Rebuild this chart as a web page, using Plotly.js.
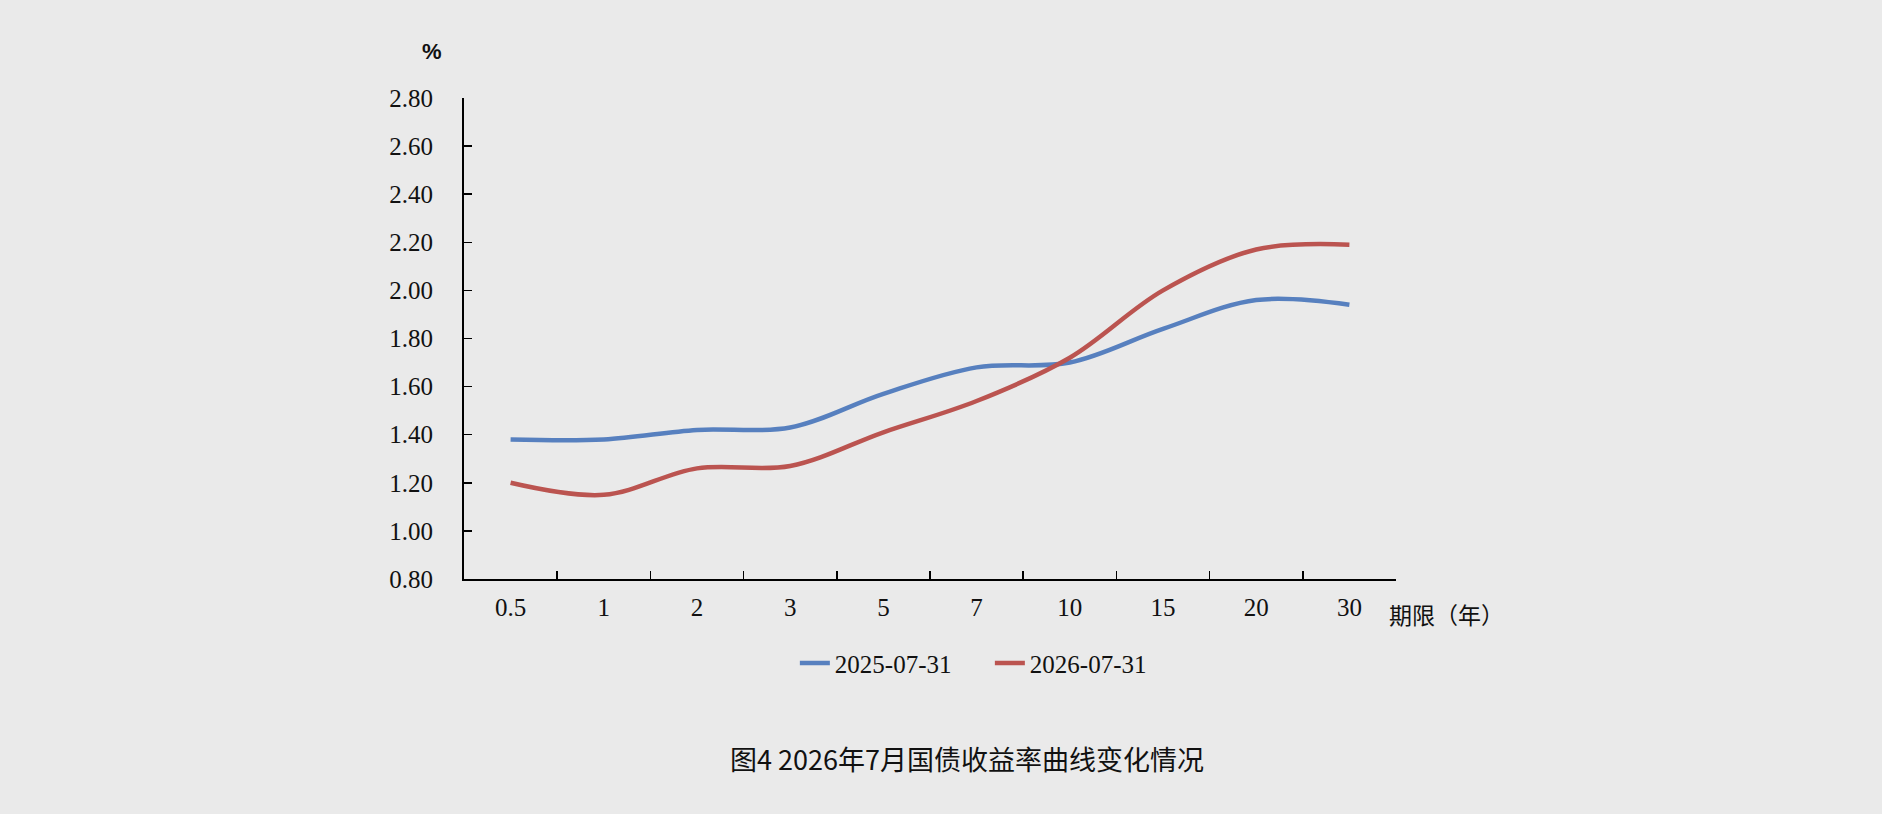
<!DOCTYPE html>
<html>
<head>
<meta charset="utf-8">
<script src="https://cdn.plot.ly/plotly-3.0.1.min.js"></script>
<style>
  html, body { margin: 0; padding: 0; background: #eaeaea; }
  #chart { width: 1882px; height: 814px; }
</style>
</head>
<body>
<div id="chart"></div>
<script>
// 期限（年）
let terms = ['0.5', '1', '2', '3', '5', '7', '10', '15', '20', '30'];

// 收益率 %
let yield_2025 = [1.38, 1.38, 1.42, 1.43, 1.57, 1.68, 1.70, 1.84, 1.96, 1.94];
let yield_2026 = [1.20, 1.15, 1.26, 1.27, 1.41, 1.54, 1.72, 2.00, 2.17, 2.19];

let series_names = ['2025-07-31', '2026-07-31'];

let chart = document.getElementById('chart');

let trace1 = {
    type: 'scatter',
    mode: 'lines',
    name: series_names[0],
    x: terms,
    y: yield_2025,
    line: { color: '#5780bf', width: 4.5, shape: 'spline', smoothing: 1 }
};

let trace2 = {
    type: 'scatter',
    mode: 'lines',
    name: series_names[1],
    x: terms,
    y: yield_2026,
    line: { color: '#bb5450', width: 4.5, shape: 'spline', smoothing: 1 }
};

let axisFont = { family: 'Liberation Serif, DejaVu Serif, serif', size: 25, color: '#111' };

let layout = {
    width: 1882,
    height: 814,
    paper_bgcolor: '#eaeaea',
    plot_bgcolor: '#eaeaea',
    margin: { l: 464, r: 486, t: 98, b: 235 },
    showlegend: true,
    legend: {
        orientation: 'h',
        x: 0.355,
        xanchor: 'left',
        y: -0.175,
        yanchor: 'middle',
        font: axisFont,
        entrywidth: 150,
        entrywidthmode: 'pixels',
        bgcolor: 'rgba(0,0,0,0)'
    },
    xaxis: {
        type: 'category',
        range: [-0.5, 9.5],
        showline: true,
        linecolor: '#000',
        linewidth: 2,
        ticks: 'inside',
        tickson: 'boundaries',
        ticklen: 8,
        tickwidth: 1.5,
        tickcolor: '#000',
        showgrid: false,
        zeroline: false,
        tickfont: axisFont,
        ticklabelstandoff: 5
    },
    yaxis: {
        range: [0.8, 2.8],
        dtick: 0.2,
        tick0: 0.8,
        tickformat: '.2f',
        showline: true,
        linecolor: '#000',
        linewidth: 2,
        ticks: 'inside',
        ticklen: 8,
        tickwidth: 1.5,
        tickcolor: '#000',
        showgrid: false,
        zeroline: false,
        tickfont: axisFont,
        ticklabelstandoff: 24
    },
    annotations: [
        {
            xref: 'paper', yref: 'paper',
            x: -0.0343, y: 1.0965,
            text: '<b>%</b>',
            showarrow: false,
            xanchor: 'center', yanchor: 'middle',
            font: { family: 'Liberation Sans, Arial, sans-serif', size: 22, color: '#111' }
        },
        {
            xref: 'paper', yref: 'paper',
            x: 0.99, y: -0.073,
            text: '期限（年）',
            showarrow: false,
            xanchor: 'left', yanchor: 'middle',
            font: { family: 'Noto Sans CJK SC', size: 23, color: '#111' }
        },
        {
            xref: 'paper', yref: 'paper',
            x: 0.54, y: -0.3725,
            text: '图4 2026年7月国债收益率曲线变化情况',
            showarrow: false,
            xanchor: 'center', yanchor: 'middle',
            font: { family: 'Noto Sans CJK SC', size: 27, color: '#111' }
        }
    ]
};

Plotly.newPlot(chart, [trace1, trace2], layout, { staticPlot: true, displayModeBar: false });
</script>
</body>
</html>
